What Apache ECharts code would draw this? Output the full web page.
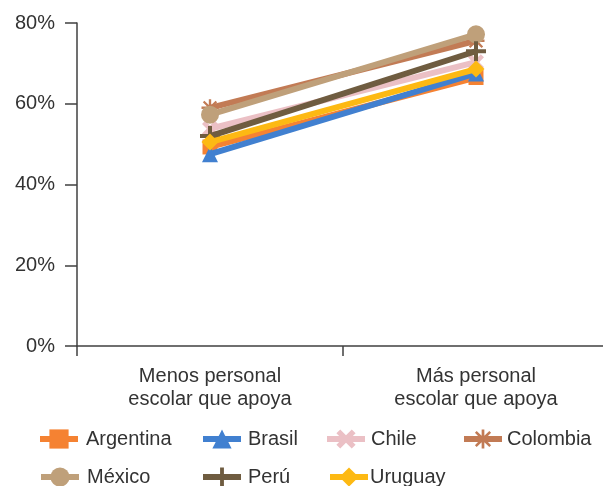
<!DOCTYPE html>
<html><head><meta charset="utf-8">
<script src="https://cdn.jsdelivr.net/npm/echarts@6/dist/echarts.min.js"></script>
<style>html,body{margin:0;padding:0;background:#fff}#c{width:603px;height:486px}</style>
</head><body><div id="c"></div>
<script>
const categories = ["Menos personal\nescolar que apoya", "Más personal\nescolar que apoya"];
const yTicks = [0, 20, 40, 60, 80];
const argentina = [49.3, 66.5];
const brasil = [47.5, 67.5];
const chile = [53.8, 70.3];
const colombia = [59.0, 75.6];
const mexico = [57.3, 77.2];
const peru = [52.0, 73.0];
const uruguay = [50.5, 68.6];

const names = ["Argentina","Brasil","Chile","Colombia","México","Perú","Uruguay"];
const values = [argentina, brasil, chile, colombia, mexico, peru, uruguay];
const colors = ["#F58232","#4180D0","#EBC0C5","#C27B55","#BFA07A","#6F5C40","#FDB913"];
const symbols = [
  "rect",
  "triangle",
  "path://M2,0 L5,3 L8,0 L10,2 L7,5 L10,8 L8,10 L5,7 L2,10 L0,8 L3,5 L0,2 Z",
  "path://M4.3,0 H5.7 V3.3 L8.3,0.8 L9.2,1.7 L6.7,4.3 H10 V5.7 H6.7 L9.2,8.3 L8.3,9.2 L5.7,6.7 V10 H4.3 V6.7 L1.7,9.2 L0.8,8.3 L3.3,5.7 H0 V4.3 H3.3 L0.8,1.7 L1.7,0.8 L4.3,3.3 Z",
  "circle",
  "path://M4,0 H6 V4 H10 V6 H6 V10 H4 V6 H0 V4 H4 Z",
  "diamond"
];
const sizes = [15, 16, 16, 17, 18, 20, 17];
const font = "Liberation Sans";

const legendPos = [
  [37, 429], [200, 429], [324, 429], [461, 429],
  [38, 467], [200, 467], [327, 467]
];
const legendPad = [3, 2, 1, 0, 3, 2, -3];

const chart = echarts.init(document.getElementById('c'), null, {renderer:'canvas'});
chart.setOption({
  animation: false,
  color: colors,
  grid: {left: 77, width: 532, top: 23, bottom: 140, containLabel: false, outerBoundsMode: 'none'},
  legend: names.map((n, i) => ({
    data: [n], left: legendPos[i][0], top: legendPos[i][1],
    itemWidth: 38, itemHeight: 24, itemGap: 0,
    lineStyle: {width: 6},
    textStyle: {fontFamily: font, fontSize: 20, color: '#333', padding: [0,0,0, legendPad[i]]},
    padding: 0
  })),
  xAxis: {
    type: 'category', data: categories, boundaryGap: true,
    axisLine: {lineStyle: {color: '#404040', width: 1.5}},
    axisTick: {show: true, length: 10, lineStyle: {color: '#404040', width: 1.5}},
    axisLabel: {fontFamily: font, fontSize: 20, color: '#333', lineHeight: 23, margin: 19}
  },
  yAxis: {
    type: 'value', min: 0, max: 80, interval: 20,
    splitLine: {show: false},
    axisLine: {show: true, lineStyle: {color: '#404040', width: 1.5}},
    axisTick: {show: true, length: 12, lineStyle: {color: '#404040', width: 1.5}},
    axisLabel: {fontFamily: font, fontSize: 20, color: '#333', margin: 22,
      formatter: v => yTicks.includes(v) ? v + '%' : ''}
  },
  series: names.map((n, i) => ({
    name: n, type: 'line', data: values[i],
    symbol: symbols[i], symbolSize: sizes[i], showSymbol: true,
    lineStyle: {width: 6, color: colors[i]},
    itemStyle: {color: colors[i]},
    z: 2 + i
  }))
});
</script></body></html>
